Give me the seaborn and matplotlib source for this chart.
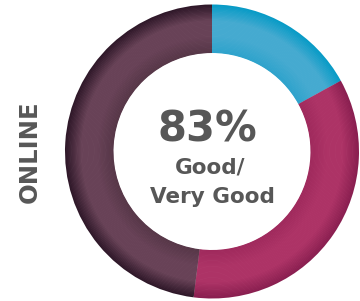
#!/usr/bin/env python3
"""
Donut chart: online rating share (83% Good / Very Good)
"""

import matplotlib
matplotlib.use("Agg")
import matplotlib.pyplot as plt
import seaborn as sns

# Data (clockwise from 12 o'clock)
segment_labels = ["Fair/Poor", "Good", "Very Good"]
segment_values = [17, 35, 48]
headline = "83%"
headline_sub = ["Good/", "Very Good"]
side_label = "ONLINE"

# Per-segment shading: outer edge -> light band -> inner edge
segment_shades = [
    ("#089bc6", "#45aad0", "#2ea3cc"),
    ("#8a1f50", "#ad3366", "#a02a5d"),
    ("#2f1829", "#684257", "#573748"),
]

sns.set_style("white")
plt.rcParams['font.family'] = ['DejaVu Sans']

text_color = "#575757"
n_rings = 40
r_out, r_in = 1.0, 0.67

fig = plt.figure(figsize=(3.6, 3.01), dpi=100)
ax = fig.add_axes([65 / 360, 2.5 / 301, 294 / 360, 294 / 301])

# radial gradient built from stacked thin rings
palettes = [sns.blend_palette([outer, light, light, inner], n_rings)
            for outer, light, inner in segment_shades]
dr = (r_out - r_in) / n_rings
for k in range(n_rings):
    radius = r_out - k * dr
    colors = [pal[k] for pal in palettes]
    ax.pie(segment_values, radius=radius, colors=colors, startangle=90,
           counterclock=False,
           wedgeprops=dict(width=dr * 1.6 if k < n_rings - 1 else dr, linewidth=0))

ax.set_xlim(-1, 1)
ax.set_ylim(-1, 1)
ax.set_aspect('equal')
ax.axis('off')

# centre text
ax.text(-0.03, 0.147, headline, ha='center', va='center', fontsize=30,
        fontweight='bold', color=text_color)
ax.text(-0.01, -0.11, headline_sub[0], ha='center', va='center', fontsize=15.5,
        fontweight='bold', color=text_color)
ax.text(0.0, -0.31, headline_sub[1], ha='center', va='center', fontsize=15.5,
        fontweight='bold', color=text_color)

fig.text(30 / 360, 1 - 152 / 301, side_label, rotation=90, ha='center', va='center',
         fontsize=17.5, fontweight='bold', color=text_color)

fig.savefig("out.png", dpi=100, facecolor='white')
plt.close(fig)
